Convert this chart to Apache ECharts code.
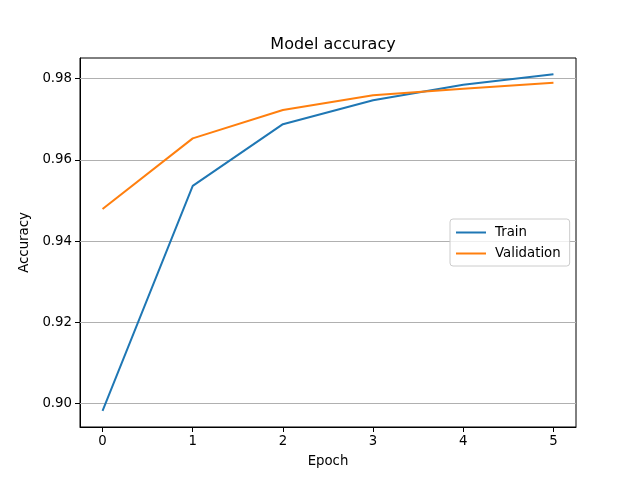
<!DOCTYPE html>
<html>
<head>
<meta charset="utf-8">
<script src="https://cdn.jsdelivr.net/npm/echarts@6/dist/echarts.min.js"></script>
<style>html,body{margin:0;padding:0;background:#fff}#c{width:640px;height:480px}</style>
</head>
<body>
<div id="c"></div>
<script>
const epochs = [0, 1, 2, 3, 4, 5];
const trainAcc = [0.8982, 0.9536, 0.9688, 0.9747, 0.9785, 0.9811];
const valAcc = [0.9479, 0.9653, 0.9723, 0.9759, 0.9775, 0.9790];
const xTicks = [0, 1, 2, 3, 4, 5];
const yTicks = [0.90, 0.92, 0.94, 0.96, 0.98];

const font = 'DejaVu Sans';
const chart = echarts.init(document.getElementById('c'), null, {renderer: 'canvas'});
const pairs = (ys) => epochs.map((x, i) => [x, ys[i]]);

chart.setOption({
  animation: false,
  backgroundColor: '#fff',
  title: {
    text: 'Model accuracy', left: 328, top: 32, textAlign: 'center',
    textStyle: {fontFamily: font, fontSize: 16, fontWeight: 'normal', color: '#000'}
  },
  grid: {left: 80, right: 64, top: 58, bottom: 53, show: true, borderColor: '#000', borderWidth: 1, backgroundColor: 'transparent'},
  legend: {
    orient: 'vertical', left: 450, top: 219,
    padding: [7, 9, 6, 6], itemGap: 8, itemWidth: 30, itemHeight: 2,
    icon: 'rect',
    backgroundColor: 'rgba(255,255,255,0.8)', borderColor: '#cccccc', borderWidth: 1, borderRadius: 3,
    textStyle: {fontFamily: font, fontSize: 13.3, color: '#000', padding: [0, 0, 0, 4]},
    data: ['Train', 'Validation']
  },
  xAxis: {
    type: 'value', min: -0.25, max: 5.25,
    name: 'Epoch', nameLocation: 'middle', nameGap: 28,
    nameTextStyle: {fontFamily: font, fontSize: 13.3, color: '#000'},
    axisLine: {show: true, onZero: false, lineStyle: {color: '#000', width: 1}},
    axisTick: {show: true, length: 5, inside: false, customValues: xTicks, lineStyle: {color: '#000'}},
    axisLabel: {customValues: xTicks, margin: 8, fontFamily: font, fontSize: 13.3, color: '#000', formatter: v => String(v)},
    splitLine: {show: false}
  },
  yAxis: {
    type: 'value', min: 0.8942, max: 0.9851,
    name: 'Accuracy', nameLocation: 'middle', nameGap: 45, nameRotate: 90,
    nameTextStyle: {fontFamily: font, fontSize: 13.3, color: '#000'},
    axisLine: {show: true, onZero: false, lineStyle: {color: '#000', width: 1}},
    axisTick: {show: true, length: 5, inside: false, customValues: yTicks, lineStyle: {color: '#000'}},
    axisLabel: {customValues: yTicks, margin: 8, fontFamily: font, fontSize: 13.3, color: '#000', formatter: v => v.toFixed(2)},
    splitLine: {show: false}
  },
  series: [
    {
      name: 'Train', type: 'line', data: pairs(trainAcc),
      symbol: 'none', showSymbol: false, z: 3,
      lineStyle: {color: '#1f77b4', width: 2}, itemStyle: {color: '#1f77b4'},
      markLine: {
        silent: true, symbol: 'none', animation: false, z: 1,
        label: {show: false},
        lineStyle: {color: '#b0b0b0', width: 1, type: 'solid'},
        data: yTicks.map(v => ({yAxis: v}))
      }
    },
    {
      name: 'Validation', type: 'line', data: pairs(valAcc),
      symbol: 'none', showSymbol: false, z: 3,
      lineStyle: {color: '#ff7f0e', width: 2}, itemStyle: {color: '#ff7f0e'}
    }
  ]
});
</script>
</body>
</html>
